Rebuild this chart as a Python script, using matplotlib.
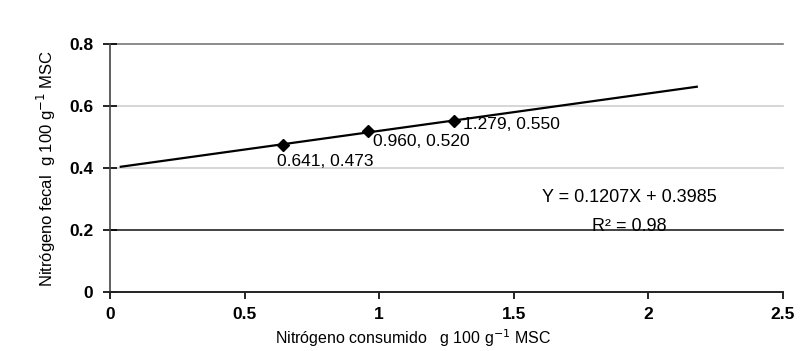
import matplotlib
matplotlib.use("Agg")
import numpy as np
import matplotlib.pyplot as plt

# observed points
n_consumed = [0.641, 0.960, 1.279]
n_fecal = [0.473, 0.520, 0.550]
point_labels = ["0.641, 0.473", "0.960, 0.520", "1.279, 0.550"]

# fitted line Y = 0.1207X + 0.3985, drawn over the range shown
slope = 0.1207
intercept = 0.3985
fit_x = [0.04, 2.18]

x_ticks = [0, 0.5, 1, 1.5, 2, 2.5]
x_tick_labels = ["0", "0.5", "1", "1.5", "2", "2.5"]
y_ticks = [0, 0.2, 0.4, 0.6, 0.8]
y_tick_labels = ["0", "0.2", "0.4", "0.6", "0.8"]

plt.rcParams["font.family"] = ["Liberation Sans", "DejaVu Sans"]

fig = plt.figure(figsize=(8.03, 3.51), dpi=100)
ax = fig.add_axes([0.137, 0.169, 0.838, 0.706])

ax.set_xlim(0, 2.5)
ax.set_ylim(0, 0.8)

# gridlines (0.2 and 0.8 darker than 0.4/0.6 in the original)
grid_colors = {0.2: "#222222", 0.4: "#cfcfcf", 0.6: "#cfcfcf", 0.8: "#777777"}
for yv, c in grid_colors.items():
    ax.axhline(yv, color=c, lw=1.2, zorder=1, clip_on=False)

fx = np.array(fit_x)
ax.plot(fx, slope * fx + intercept, color="black", lw=1.6, zorder=3)
ax.plot(n_consumed, n_fecal, linestyle="none", marker="D", ms=6.5,
        color="black", zorder=4)

offsets = [(-4, -12), (3, -8), (6, -2)]
for xv, yv, lab, off in zip(n_consumed, n_fecal, point_labels, offsets):
    ax.annotate(lab, (xv, yv), textcoords="offset points", xytext=off,
                ha="left", va="center", fontsize=12.5, zorder=5)

ax.text(1.93, 0.305, "Y = 0.1207X + 0.3985", ha="center", va="center", fontsize=13)
ax.text(1.93, 0.212, "R² = 0.98", ha="center", va="center", fontsize=13)

for s in ["top", "right"]:
    ax.spines[s].set_visible(False)
ax.spines["left"].set_color("#444444")
ax.spines["bottom"].set_color("#222222")
ax.spines["left"].set_linewidth(1.2)
ax.spines["bottom"].set_linewidth(1.4)

ax.set_xticks(x_ticks)
ax.set_xticklabels(x_tick_labels, fontsize=12.5, fontweight="bold")
ax.set_yticks(y_ticks)
ax.set_yticklabels(y_tick_labels, fontsize=12.5, fontweight="bold")
ax.tick_params(axis="x", direction="out", length=5, width=1.2, pad=6)
ax.tick_params(axis="y", direction="inout", length=10, width=1.2, pad=7)

fig.text(0.514, 0.036, "Nitrógeno consumido   g 100 g$^{-1}$ MSC",
         ha="center", va="center", fontsize=11.5)
fig.text(0.058, 0.52, "Nitrógeno fecal  g 100 g$^{-1}$ MSC", rotation=90,
         ha="center", va="center", fontsize=12)

fig.savefig("out.png", dpi=100)
